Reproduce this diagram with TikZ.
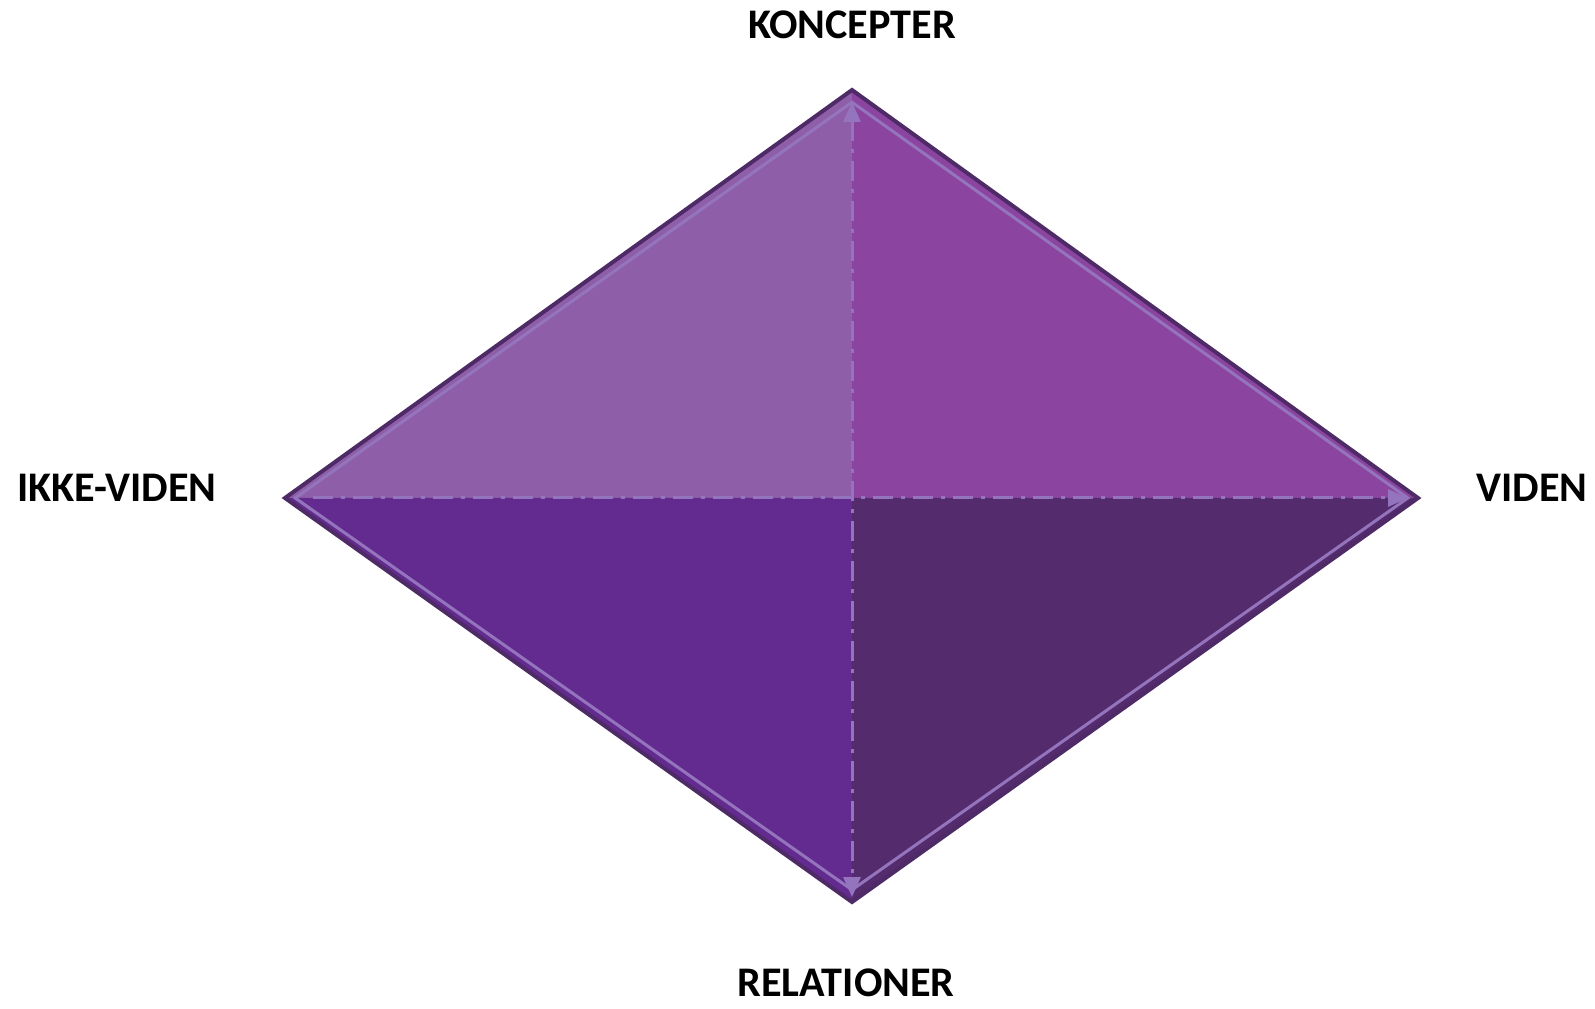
\documentclass[tikz,border=0pt]{standalone}
\usepackage{fontspec}
\setmainfont{Carlito}
\usetikzlibrary{arrows.meta,calc}

\definecolor{violetOL}{HTML}{8E5FA8}
\definecolor{violetOR}{HTML}{8B45A0}
\definecolor{violetUL}{HTML}{632B8F}
\definecolor{violetUR}{HTML}{542B6C}
\definecolor{kante}{HTML}{4E2A66}
\definecolor{linie}{HTML}{9474BC}

\tikzset{
  beschriftung/.style={font=\fontsize{24}{28}\selectfont\bfseries, inner sep=0pt},
  pfeil/.style={draw=linie, line width=0.06cm,
    dash pattern=on 0.4cm off 0.16cm on 0.08cm off 0.16cm},
  spitze/.tip={Triangle[length=0.4cm,width=0.34cm]},
}

\begin{document}
\begin{tikzpicture}[x=0.02cm,y=0.02cm]
\useasboundingbox (0,0) rectangle (1595,1008);

% Ecken der Raute
\coordinate (oben) at (852,918);
\coordinate (unten) at (852,106);
\coordinate (links) at (285,510);
\coordinate (rechts) at (1418,510);
\coordinate (mitte) at (852,510);

% Flaechen
\fill[violetOL] (mitte) -- (links) -- (oben) -- cycle;
\fill[violetOR] (mitte) -- (oben) -- (rechts) -- cycle;
\fill[violetUL] (mitte) -- (links) -- (unten) -- cycle;
\fill[violetUR] (mitte) -- (unten) -- (rechts) -- cycle;

% Rand
\draw[kante, line width=0.08cm] (oben) -- (rechts) -- (unten) -- (links) -- cycle;
\draw[linie, line width=0.06cm] ($(mitte)!0.97!(oben)$) -- ($(mitte)!0.982!(rechts)$)
  -- ($(mitte)!0.97!(unten)$) -- ($(mitte)!0.982!(links)$) -- cycle;

% Pfeile
\coordinate (hstart) at (313,510);
\coordinate (hende) at (1408,510);
\coordinate (voben) at (852,906);
\coordinate (vunten) at (852,111);
\draw[pfeil, -spitze] (hstart) -- (hende);
\draw[pfeil, spitze-spitze] (voben) -- (vunten);

% Beschriftungen
\node[beschriftung] (koncepter) at (852,983) {KONCEPTER};
\node[beschriftung] (relationer) at (846,25) {RELATIONER};
\node[beschriftung] (ikkeviden) at (117,520) {IKKE-VIDEN};
\node[beschriftung] (viden) at (1532,520) {VIDEN};
\end{tikzpicture}
\end{document}
